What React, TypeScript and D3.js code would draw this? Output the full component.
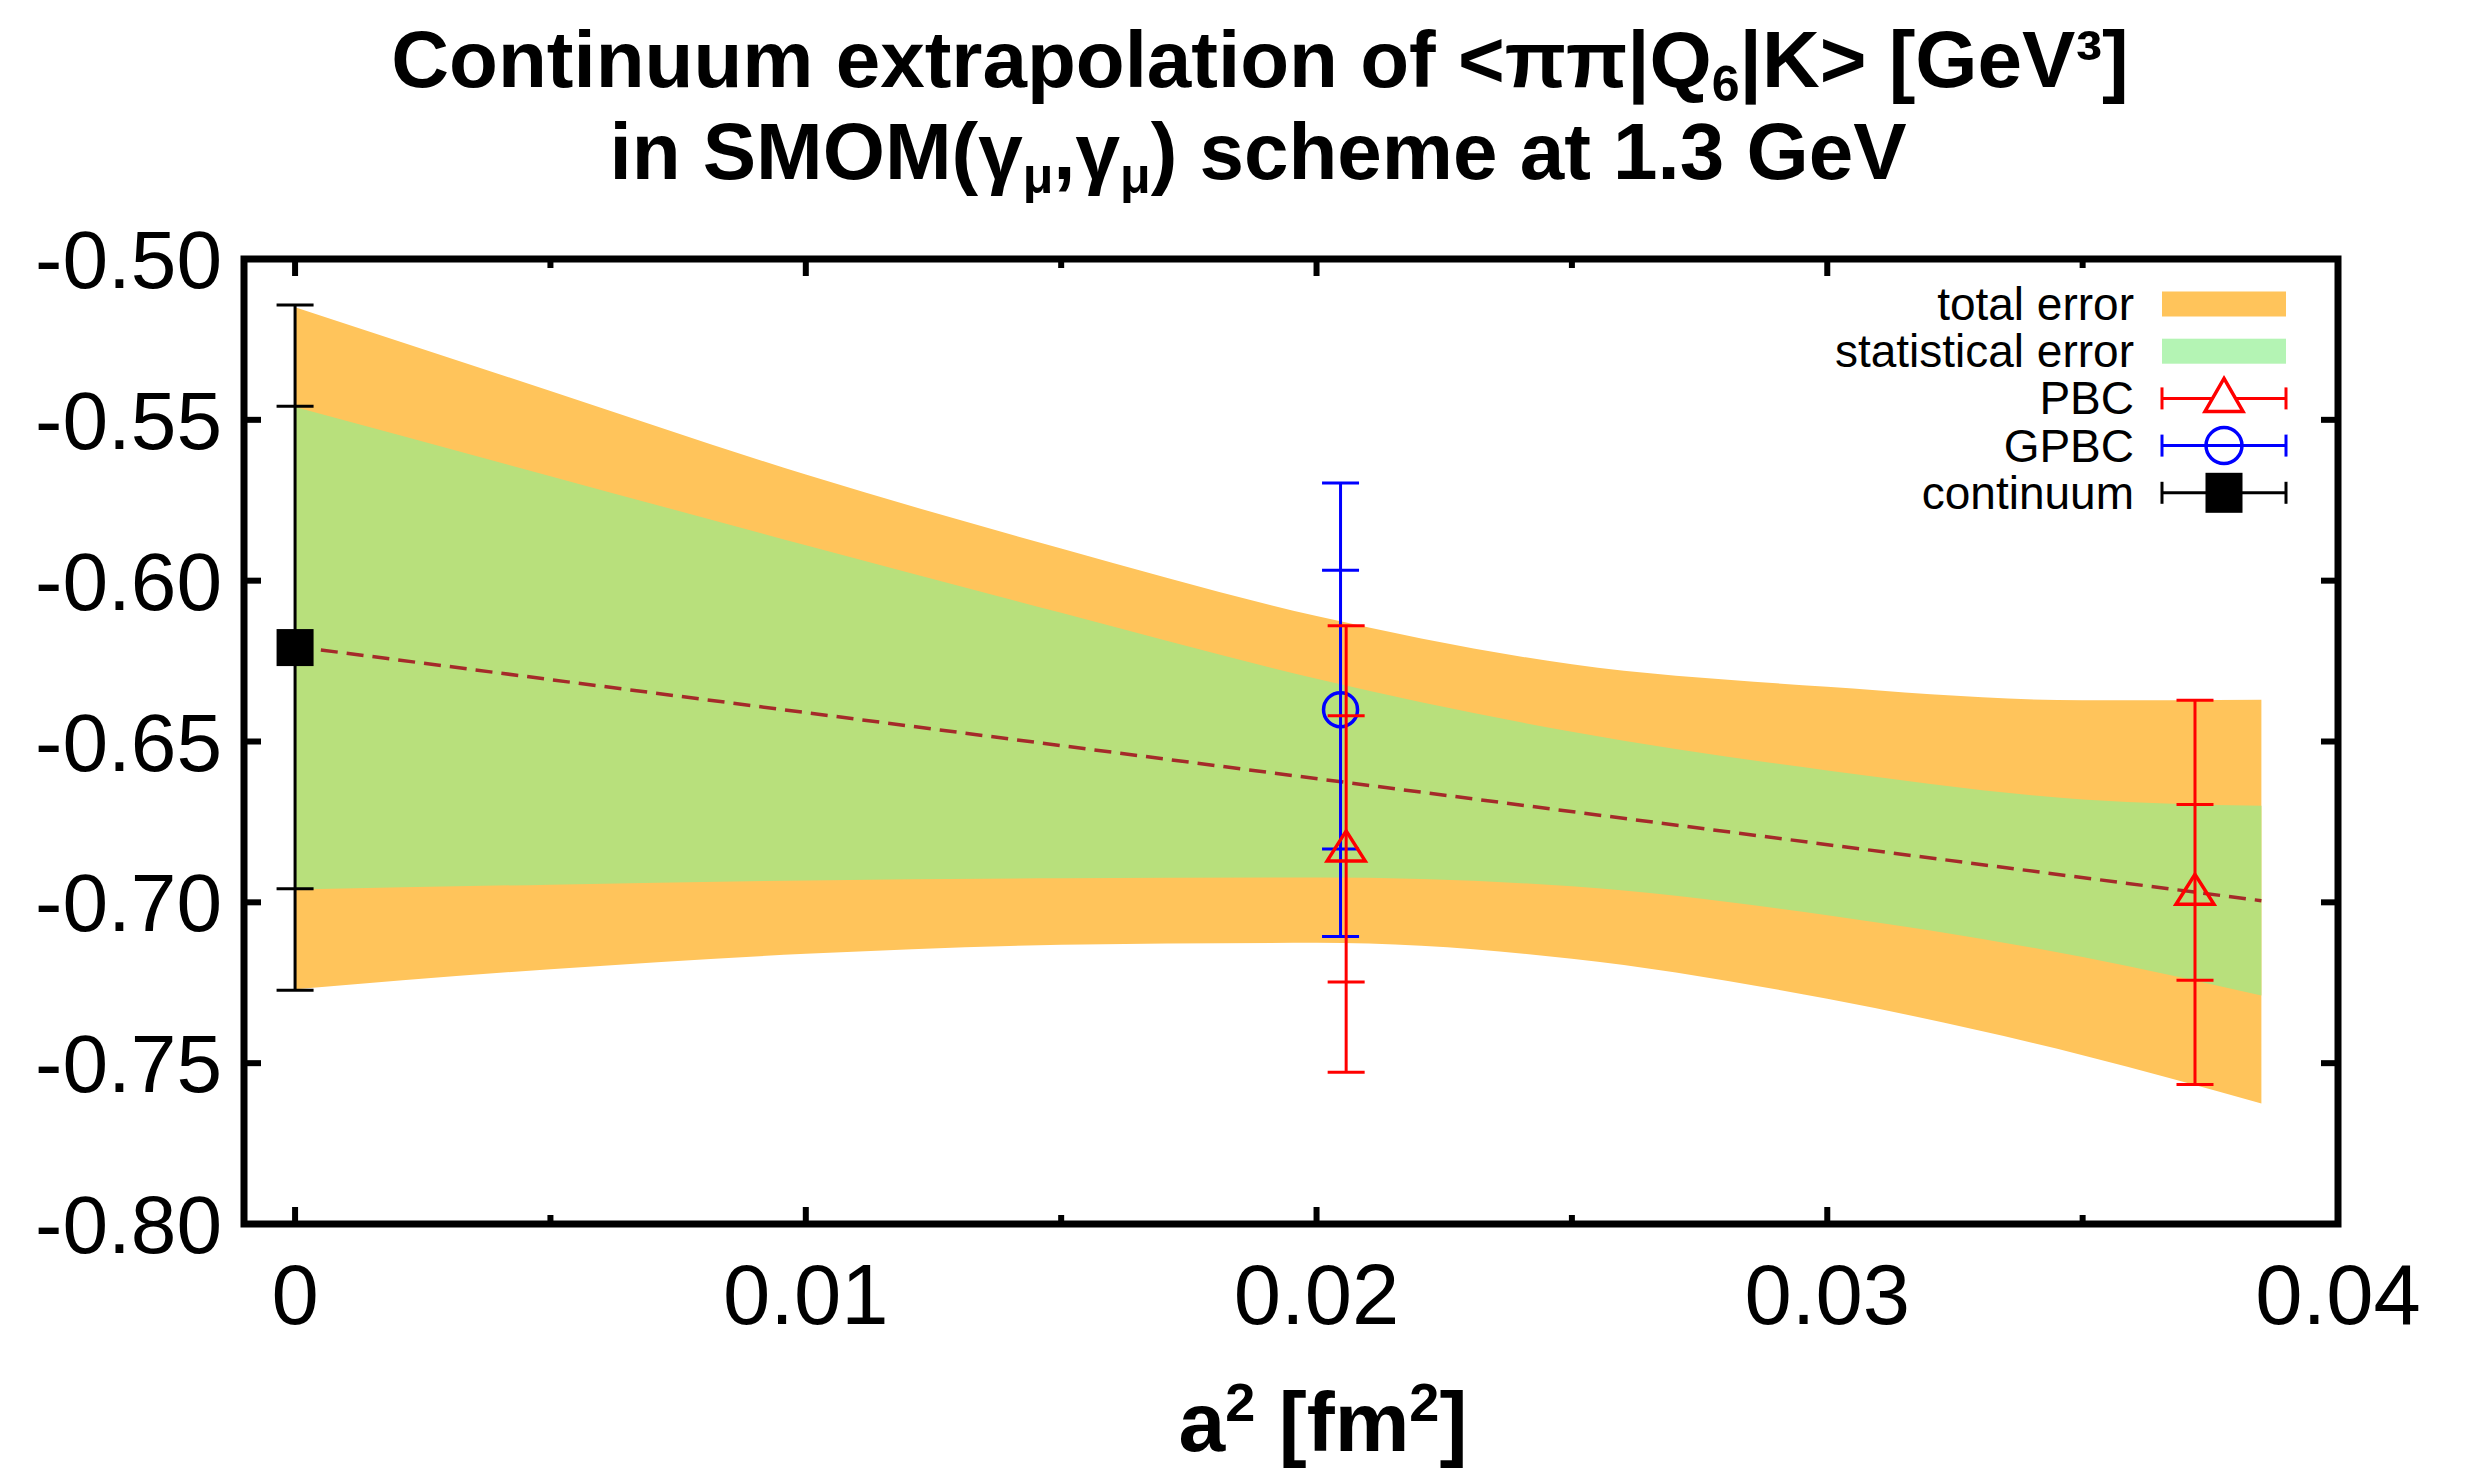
import React from 'react';
import * as d3 from 'd3';

// ---- data ----
const bandX = [0, 0.005, 0.01, 0.015, 0.02, 0.025, 0.03, 0.035, 0.0385];
const totalUpper = [-0.515, -0.541, -0.567, -0.59, -0.611, -0.626, -0.633, -0.6372, -0.637];
const totalLower = [-0.727, -0.7208, -0.716, -0.7132, -0.7126, -0.7175, -0.73, -0.7475, -0.7625];
const statUpper = [-0.546, -0.5675, -0.589, -0.61, -0.6305, -0.647, -0.659, -0.668, -0.67];
const statLower = [-0.696, -0.6945, -0.6932, -0.6925, -0.6923, -0.695, -0.704, -0.717, -0.729];

const fitX = [0, 0.0385];
const fitY = [-0.6205, -0.6995];

const continuumPts = [{ x: 0, y: -0.6208, stat: 0.075, total: 0.1065 }];
const gpbcPts = [{ x: 0.02047, y: -0.6401, stat: 0.0433, total: 0.0705 }];
const pbcPts = [
  { x: 0.02058, y: -0.6834, stat: 0.0414, total: 0.0694 },
  { x: 0.0372, y: -0.6969, stat: 0.0273, total: 0.0597 },
];

const yTicks = [-0.5, -0.55, -0.6, -0.65, -0.7, -0.75, -0.8];
const yTickLabels = ['-0.50', '-0.55', '-0.60', '-0.65', '-0.70', '-0.75', '-0.80'];
const xTicks = [0, 0.01, 0.02, 0.03, 0.04];
const xTickLabels = ['0', '0.01', '0.02', '0.03', '0.04'];
const xMinorTicks = [0.005, 0.015, 0.025, 0.035];

const legendLabels = ['total error', 'statistical error', 'PBC', 'GPBC', 'continuum'];

const ORANGE = '#ffc45b';
const GREEN_BAND = '#b8e07c';
const GREEN_LEG = '#b4f4b4';
const FONT = '"Liberation Sans", Arial, Helvetica, sans-serif';

export default function App() {
  const W = 2484, H = 1477;
  const L = 244, R = 2338, T = 259, B = 1224;
  const x = d3.scaleLinear().domain([-0.001, 0.04]).range([L, R]);
  const y = d3.scaleLinear().domain([-0.8, -0.5]).range([B, T]);

  const idx = bandX.map((_, i) => i);
  const totalArea = d3.area<number>()
    .x((i) => x(bandX[i]))
    .y0((i) => y(totalLower[i]))
    .y1((i) => y(totalUpper[i]))
    .curve(d3.curveMonotoneX);
  const statArea = d3.area<number>()
    .x((i) => x(bandX[i]))
    .y0((i) => y(statLower[i]))
    .y1((i) => y(statUpper[i]))
    .curve(d3.curveMonotoneX);
  const fitLine = d3.line<number>()
    .x((i) => x(fitX[i]))
    .y((i) => y(fitY[i]));

  const cap = 18.5;
  const errBar = (p: any, color: string, key: string) => {
    const px = x(p.x);
    return (
      <g key={key} stroke={color} strokeWidth={3} fill="none">
        <line x1={px} x2={px} y1={y(p.y + p.total)} y2={y(p.y - p.total)} />
        {[p.y + p.total, p.y + p.stat, p.y - p.stat, p.y - p.total].map((v, i) => (
          <line key={i} x1={px - cap} x2={px + cap} y1={y(v)} y2={y(v)} />
        ))}
      </g>
    );
  };
  const triangle = (cx: number, cy: number, color: string, key: string) => (
    <path key={key} d={`M${cx},${cy - 18} L${cx + 19},${cy + 12} L${cx - 19},${cy + 12} Z`}
      fill="none" stroke={color} strokeWidth={3.5} />
  );
  const circle = (cx: number, cy: number, color: string, key: string) => (
    <circle key={key} cx={cx} cy={cy} r={17} fill="none" stroke={color} strokeWidth={3.5} />
  );
  const square = (cx: number, cy: number, key: string) => (
    <rect key={key} x={cx - 18.5} y={cy - 18.5} width={37} height={37} fill="#000" />
  );

  // legend geometry
  const legTextX = 2134;
  const legX0 = 2162, legX1 = 2286;
  const legRowY = (i: number) => 304 + i * 47.2;

  const legendSample = (i: number) => {
    const cy = legRowY(i);
    const cx = (legX0 + legX1) / 2;
    if (i === 0) return <rect x={legX0} y={cy - 12.5} width={legX1 - legX0} height={25} fill={ORANGE} />;
    if (i === 1) return <rect x={legX0} y={cy - 12.5} width={legX1 - legX0} height={25} fill={GREEN_LEG} />;
    const color = i === 2 ? '#ff0000' : i === 3 ? '#0000ff' : '#000000';
    return (
      <g>
        <g stroke={color} strokeWidth={3}>
          <line x1={legX0} x2={legX1} y1={cy} y2={cy} />
          <line x1={legX0} x2={legX0} y1={cy - 11} y2={cy + 11} />
          <line x1={legX1} x2={legX1} y1={cy - 11} y2={cy + 11} />
        </g>
        {i === 2 && <path d={`M${cx},${cy - 20} L${cx + 19},${cy + 13} L${cx - 19},${cy + 13} Z`} fill="#fff" stroke={color} strokeWidth={3.5} />}
        {i === 3 && <circle cx={cx} cy={cy} r={18} fill="none" stroke={color} strokeWidth={3.5} />}
        {i === 4 && <rect x={cx - 18.5} y={cy - 20} width={37} height={40} fill="#000" />}
      </g>
    );
  };

  return (
    <svg width={W} height={H} viewBox={`0 0 ${W} ${H}`}
      style={{ position: 'absolute', left: 0, top: 0, background: '#fff' }}
      fontFamily={FONT}>
      <rect x={0} y={0} width={W} height={H} fill="#fff" />

      {/* title */}
      <text x={1260} y={87} textAnchor="middle" fontSize={80} fontWeight="bold">
        <tspan>Continuum extrapolation of &lt;ππ|Q</tspan>
        <tspan fontSize={50} dy={14}>6</tspan>
        <tspan dy={-14}>|K&gt; [GeV³]</tspan>
      </text>
      <text x={1258} y={179} textAnchor="middle" fontSize={80} fontWeight="bold">
        <tspan>in SMOM(γ</tspan>
        <tspan fontSize={50} dy={14}>μ</tspan>
        <tspan dy={-14}>,γ</tspan>
        <tspan fontSize={50} dy={14}>μ</tspan>
        <tspan dy={-14}>) scheme at 1.3 GeV</tspan>
      </text>

      {/* bands */}
      <path d={totalArea(idx) || ''} fill={ORANGE} />
      <path d={statArea(idx) || ''} fill={GREEN_BAND} />

      {/* fit line */}
      <path d={fitLine([0, 1]) || ''} fill="none" stroke="#a52a2a" strokeWidth={3.5} strokeDasharray="17,9" />

      {/* data */}
      {continuumPts.map((p, i) => errBar(p, '#000', 'ce' + i))}
      {continuumPts.map((p, i) => square(x(p.x), y(p.y), 'cs' + i))}
      {gpbcPts.map((p, i) => errBar(p, '#0000ff', 'ge' + i))}
      {gpbcPts.map((p, i) => circle(x(p.x), y(p.y), '#0000ff', 'gc' + i))}
      {pbcPts.map((p, i) => errBar(p, '#ff0000', 'pe' + i))}
      {pbcPts.map((p, i) => triangle(x(p.x), y(p.y), '#ff0000', 'pt' + i))}

      {/* legend */}
      {legendLabels.map((lab, i) => (
        <g key={lab}>
          <text x={legTextX} y={legRowY(i) + 16} textAnchor="end" fontSize={46}>{lab}</text>
          {legendSample(i)}
        </g>
      ))}

      {/* ticks */}
      <g stroke="#000" strokeWidth={6}>
        {yTicks.map((t) => (
          <g key={'yt' + t}>
            <line x1={L} x2={L + 17} y1={y(t)} y2={y(t)} />
            <line x1={R} x2={R - 17} y1={y(t)} y2={y(t)} />
          </g>
        ))}
        {xTicks.map((t) => (
          <g key={'xt' + t}>
            <line x1={x(t)} x2={x(t)} y1={B} y2={B - 17} />
            <line x1={x(t)} x2={x(t)} y1={T} y2={T + 17} />
          </g>
        ))}
        {xMinorTicks.map((t) => (
          <g key={'xm' + t}>
            <line x1={x(t)} x2={x(t)} y1={B} y2={B - 9} />
            <line x1={x(t)} x2={x(t)} y1={T} y2={T + 9} />
          </g>
        ))}
      </g>

      {/* frame */}
      <rect x={L} y={T} width={R - L} height={B - T} fill="none" stroke="#000" strokeWidth={7} />

      {/* tick labels */}
      {yTicks.map((t, i) => (
        <text key={'yl' + t} x={222} y={y(t) + 29} textAnchor="end" fontSize={82}>{yTickLabels[i]}</text>
      ))}
      {xTicks.map((t, i) => (
        <text key={'xl' + t} x={x(t)} y={1324} textAnchor="middle" fontSize={85}>{xTickLabels[i]}</text>
      ))}

      {/* x axis label */}
      <text x={1323} y={1451} textAnchor="middle" fontSize={84} fontWeight="bold">
        <tspan>a</tspan>
        <tspan fontSize={54} dy={-30}>2</tspan>
        <tspan dy={30}> [fm</tspan>
        <tspan fontSize={54} dy={-30}>2</tspan>
        <tspan dy={30}>]</tspan>
      </text>
    </svg>
  );
}
